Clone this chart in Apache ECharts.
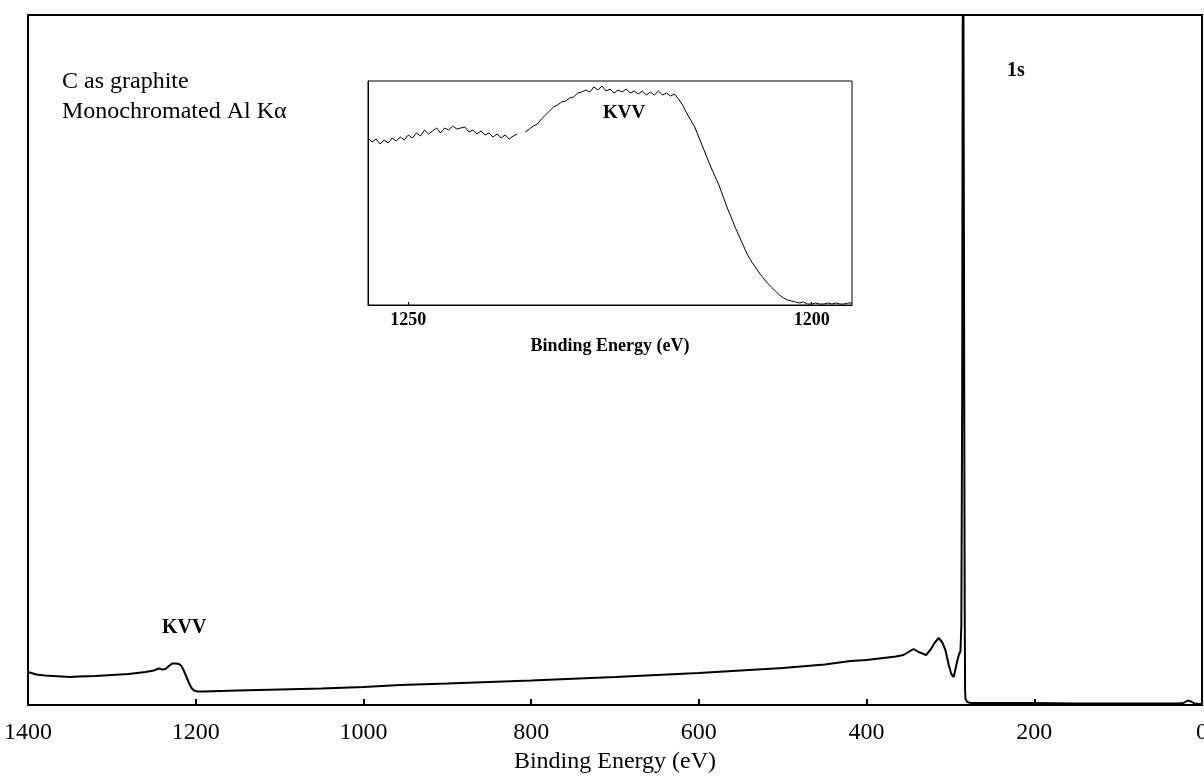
<!DOCTYPE html>
<html>
<head>
<meta charset="utf-8">
<script src="https://cdn.jsdelivr.net/npm/echarts@6/dist/echarts.min.js"></script>
<style>
  html, body { margin: 0; padding: 0; background: #fff; }
  #chart { width: 1204px; height: 778px; }
</style>
</head>
<body>
<div id="chart"></div>
<script>
// survey spectrum, C as graphite (intensity = arbitrary units)
const mainEnergy = [1400, 1390, 1380, 1370, 1360, 1350, 1340, 1320, 1300, 1280, 1260, 1250, 1244, 1240, 1236,
  1232, 1228, 1224, 1220, 1217, 1214, 1211, 1208, 1205, 1202, 1198, 1190, 1150, 1100, 1050, 1000, 956,
  900, 800, 700, 600, 500, 450, 419, 400, 380, 365, 356, 350, 344, 338, 329, 324, 319, 314, 310, 306,
  302, 299, 296, 293, 290, 288, 287, 286, 285, 284, 283, 282.5, 282, 280, 276, 250, 200, 150, 100,
  60, 30, 22, 17, 13, 9, 4, 0];
const mainCounts = [33, 30.5, 29.5, 29, 28.5, 28, 28.5, 29, 30, 31, 33, 34.5, 36.5, 35.5, 36,
  39, 41.5, 41.5, 41, 39, 34, 28, 22, 17, 14.5, 13.5, 13.5, 14.5, 15.5, 16.5, 18, 20,
  21.5, 24.5, 28, 32, 37, 40.5, 44, 45, 47, 48.5, 50, 53, 56, 53, 50, 55, 62, 67, 63, 55,
  40, 31, 28, 40, 50, 54, 80, 300, 900, 900, 100, 15, 6, 3, 2, 2, 2, 1.5, 1.5,
  1.5, 1.5, 2, 4.5, 3.5, 1.5, 1, 1];

// inset: KVV region, sampled every 0.5 eV from 1255 down to 1195
const insetStartEV = 1255;
const insetStep = 0.5;
const insetCounts = [
  167, 163, 166, 161, 165, 162, 167, 164, 168, 165,
  170, 167, 172, 169, 175, 171, 174, 177, 172, 177,
  175, 179, 176, 177, 178, 173, 175, 171, 174, 170,
  172, 168, 171, 167, 170, 166, 169, 171, null, 173,
  176, 179, 181, 186, 190, 194, 198, 200, 203, 204,
  207, 208, 212, 213, 215, 213, 218, 215, 219, 214,
  216, 212, 215, 213, 216, 212, 214, 211, 214, 210,
  213, 210, 214, 210, 212, 209, 211, 206, 200, 192,
  185, 178, 168, 158, 148, 138, 129, 120, 109, 98,
  88, 78, 69, 60, 51, 44, 38, 32, 27, 22,
  18, 14, 10, 7, 5, 4, 3, 2, 3, 1,
  1, 2, 1, 1, 2, 1, 2, 1, 1, 2, 2
];
const mainTicks = [0, 1400, 200];
const insetTicks = [1200, 1250];

const serif = 'Liberation Serif';

const mainData = mainEnergy.map((e, i) => [e, mainCounts[i]]);
const insetData = insetCounts.map((v, i) => [insetStartEV - i * insetStep, v]);

const chart = echarts.init(document.getElementById('chart'));

const option = {
  backgroundColor: '#fff',
  animation: false,
  grid: [
    { left: 28, right: 2, top: 15, bottom: 73, show: true, borderColor: '#000', borderWidth: 2, outerBoundsMode: 'none', containLabel: false },
    { left: 368, right: 352, top: 81, bottom: 473, show: true, borderColor: '#000', borderWidth: 1, outerBoundsMode: 'none', containLabel: false }
  ],
  xAxis: [
    {
      gridIndex: 0,
      type: 'value',
      inverse: true,
      min: mainTicks[0],
      max: mainTicks[1],
      interval: mainTicks[2],
      name: 'Binding Energy (eV)',
      nameLocation: 'middle',
      nameGap: 45,
      nameTextStyle: { fontFamily: serif, fontSize: 24, color: '#000' },
      axisLine: { lineStyle: { color: '#000', width: 2 } },
      axisTick: { inside: true, length: 6, lineStyle: { color: '#000', width: 2 } },
      axisLabel: { fontFamily: serif, fontSize: 24, color: '#000', margin: 16, formatter: v => String(v) },
      splitLine: { show: false }
    },
    {
      gridIndex: 1,
      type: 'value',
      inverse: true,
      min: 1195,
      max: 1255,
      name: 'Binding Energy (eV)',
      nameLocation: 'middle',
      nameGap: 32,
      nameTextStyle: { fontFamily: serif, fontSize: 18, fontWeight: 'bold', color: '#000' },
      axisLine: { lineStyle: { color: '#000', width: 1 } },
      axisTick: { inside: true, length: 3, customValues: insetTicks, lineStyle: { color: '#000' } },
      axisLabel: { fontFamily: serif, fontSize: 18, fontWeight: 'bold', color: '#000', margin: 6, customValues: insetTicks, formatter: v => String(v) },
      splitLine: { show: false }
    }
  ],
  yAxis: [
    {
      gridIndex: 0,
      type: 'value',
      min: 0,
      max: 690,
      axisLine: { show: true, lineStyle: { color: '#000', width: 2 } },
      axisTick: { show: false },
      axisLabel: { show: false },
      splitLine: { show: false }
    },
    {
      gridIndex: 1,
      type: 'value',
      min: 0,
      max: 224,
      axisLine: { show: true, lineStyle: { color: '#000', width: 1 } },
      axisTick: { show: false },
      axisLabel: { show: false },
      splitLine: { show: false }
    }
  ],
  series: [
    {
      type: 'line',
      xAxisIndex: 0,
      yAxisIndex: 0,
      data: mainData,
      showSymbol: false,
      lineStyle: { color: '#000', width: 2 },
      clip: true
    },
    {
      type: 'line',
      xAxisIndex: 1,
      yAxisIndex: 1,
      data: insetData,
      showSymbol: false,
      connectNulls: false,
      lineStyle: { color: '#000', width: 1 },
      clip: true
    }
  ],
  graphic: [
    { type: 'text', left: 62, top: 70, style: { text: 'C as graphite', font: '24px "Liberation Serif"', fill: '#000' } },
    { type: 'text', left: 62, top: 100, style: { text: 'Monochromated Al K\u03b1', font: '24px "Liberation Serif"', fill: '#000' } },
    { type: 'text', left: 162, top: 618, style: { text: 'KVV', font: 'bold 20px "Liberation Serif"', fill: '#000' } },
    { type: 'text', left: 1007, top: 61, style: { text: '1s', font: 'bold 20px "Liberation Serif"', fill: '#000' } },
    { type: 'text', left: 603, top: 104, style: { text: 'KVV', font: 'bold 19px "Liberation Serif"', fill: '#000' } }
  ]
};

chart.setOption(option);
</script>
</body>
</html>
